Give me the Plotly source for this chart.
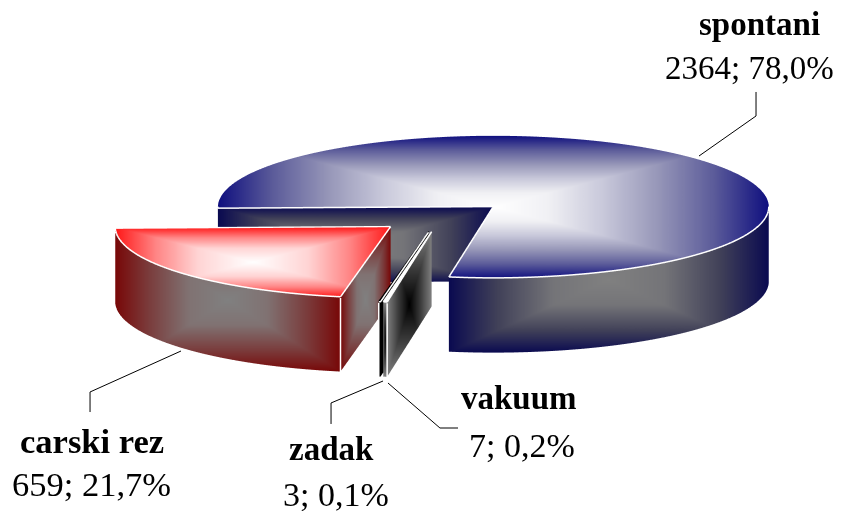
import numpy as np
import plotly.graph_objects as go

# ---- data ----
labels = ["spontani", "vakuum", "zadak", "carski rez"]
counts = [2364, 7, 3, 659]
percents = ["78,0", "0,2", "0,1", "21,7"]

# ---- style ----
W, H = 851, 511
START_DEG = 268.7
ELEV = np.radians(15)
THICK = 0.279
PX = 276.0               # pixels per pie radius
PIE_CX, PIE_CY = 493.5, 207.0
EYE_DIST = 12.0
ASPECT = 276.0 / 64.0
offsets = {"spontani": (0, 0), "vakuum": (-0.224, -0.352),
           "zadak": (-0.234, -0.352), "carski rez": (-0.373, -0.282)}
top_scale = {
    "spontani": [[0, "#ffffff"], [0.2, "#f0f0f4"], [0.4, "#c8c8da"], [0.6, "#9696b8"], [0.8, "#5c5c9a"], [1, "#10107f"]],
    "vakuum": [[0, "#ffffff"], [1, "#ffffff"]],
    "zadak": [[0, "#ffffff"], [1, "#ffffff"]],
    "carski rez": [[0, "#ffffff"], [0.4, "#ffd4d4"], [0.7, "#ff8686"], [1, "#ff1818"]],
}
side_scale = {
    "spontani": [[0, "#808080"], [0.35, "#747478"], [0.7, "#404058"], [1, "#0a0a50"]],
    "vakuum": [[0, "#000000"], [0.5, "#3c3c3c"], [1, "#808080"]],
    "zadak": [[0, "#000000"], [1, "#000000"]],
    "carski rez": [[0, "#808080"], [0.35, "#807272"], [0.7, "#7a3c3c"], [1, "#780808"]],
}
name_pos = {"spontani": (759, 24, 33), "vakuum": (519, 398, 33),
            "zadak": (331, 449, 33), "carski rez": (92, 441, 34.5)}
value_pos = {"spontani": (749, 68, 33), "vakuum": (522, 445, 34),
             "zadak": (336, 494, 34), "carski rez": (91, 484, 34.5)}
edge_colors = {("zadak", 1): "#000000"}
vertical_edges = {"vakuum": 0, "zadak": 1, "carski rez": 0}
leaders = [[(699, 156), (756, 116), (756, 92)],
           [(388, 383), (440, 428), (458, 428)],
           [(383, 381), (331, 403), (331, 424)],
           [(181, 351), (90, 392), (90, 412)]]

SE, CE = np.sin(ELEV), np.cos(ELEV)
fig = go.Figure()


def grad(x, y, z):
    sx = x
    sy = y * SE + z * CE
    u = (sx - (sx.max() + sx.min()) / 2) / max((sx.max() - sx.min()) / 2, 1e-6)
    v = (sy - (sy.max() + sy.min()) / 2) / max((sy.max() - sy.min()) / 2, 1e-6)
    return np.maximum(np.abs(u), np.abs(v))


def add_surface(x, y, z, scale):
    fig.add_trace(go.Surface(
        x=x, y=y, z=z, surfacecolor=grad(x, y, z), cmin=0, cmax=1,
        colorscale=scale, showscale=False, hoverinfo="skip",
        lighting=dict(ambient=1, diffuse=0, specular=0, roughness=1, fresnel=0),
    ))


def add_line(x, y, z, color, width=3):
    fig.add_trace(go.Scatter3d(x=x, y=y, z=z, mode="lines", hoverinfo="skip",
                               line=dict(color=color, width=width)))


def polar(theta, r=1.0):
    return r * np.sin(theta), r * np.cos(theta)


total = sum(counts)
a0 = np.radians(START_DEG)
for name, c in zip(labels, counts):
    a1 = a0 + 2 * np.pi * c / total
    ox, oy = offsets[name]
    # top face
    th = np.linspace(a0, a1, max(int(np.degrees(a1 - a0)), 6) + 1)
    rr = np.linspace(0, 1, 120)
    R, T = np.meshgrid(rr, th)
    add_surface(ox + R * np.sin(T), oy + R * np.cos(T), np.zeros_like(R), top_scale[name])
    # outer wall: only the front half of the rim
    lo, hi = np.radians(90), np.radians(270)
    ws = []
    for k in (-1, 0, 1):
        s, e = a0 + 2 * np.pi * k, a1 + 2 * np.pi * k
        if e > lo and s < hi:
            ws.append((max(s, lo), min(e, hi)))
    for s, e in ws:
        th2 = np.linspace(s, e, max(int(np.degrees(e - s)) * 2, 6) + 1)
        zz = np.linspace(-THICK, 0, 60)
        T2, Z2 = np.meshgrid(th2, zz)
        add_surface(ox + np.sin(T2), oy + np.cos(T2), Z2, side_scale[name])
        rx, ry = polar(th2)
        add_line(ox + rx, oy + ry, np.zeros_like(th2) + 0.002, "#ffffff")
    # radial walls
    zz = np.linspace(-THICK, 0, 60)
    rr2 = np.linspace(0, 1, 120)
    for k, ang in enumerate((a0, a1)):
        R3, Z3 = np.meshgrid(rr2, zz)
        add_surface(ox + R3 * np.sin(ang), oy + R3 * np.cos(ang), Z3, side_scale[name])
        ex, ey = polar(ang)
        add_line([ox, ox + ex], [oy, oy + ey], [0.002, 0.002], edge_colors.get((name, k), "#ffffff"))
        if vertical_edges.get(name) == k:
            add_line([ox + ex] * 2, [oy + ey - 0.01] * 2, [0, -THICK], "#ffffff")
    a0 = a1

for name, c, p in zip(labels, counts, percents):
    for text, (px, py, size) in ((f"<b>{name}</b>", name_pos[name]), (f"{c}; {p}%", value_pos[name])):
        fig.add_annotation(x=px / W, y=1 - py / H, xref="paper", yref="paper", showarrow=False,
                           xanchor="center", yanchor="middle", align="center", text=text,
                           font=dict(family="Liberation Serif", size=size, color="#000000"))

for pts in leaders:
    path = "M " + " L ".join(f"{x / W:.4f},{1 - y / H:.4f}" for x, y in pts)
    fig.add_shape(type="path", path=path, xref="paper", yref="paper",
                  line=dict(color="#000000", width=1))

shift_x = (W / 2 - PIE_CX) / PX
shift_z = (H / 2 - PIE_CY) / PX / CE
axis = dict(visible=False, showbackground=False, showgrid=False, zeroline=False, showspikes=False)
fig.update_layout(
    width=W, height=H, margin=dict(l=0, r=0, t=0, b=0), showlegend=False,
    paper_bgcolor="#ffffff",
    scene=dict(
        domain=dict(x=[0, 1], y=[0, 1]),
        xaxis=dict(range=[shift_x - 2, shift_x + 2], **axis),
        yaxis=dict(range=[-2, 2], **axis),
        zaxis=dict(range=[-shift_z - 2, -shift_z + 2], **axis),
        aspectmode="manual", aspectratio=dict(x=ASPECT, y=ASPECT, z=ASPECT),
        bgcolor="#ffffff",
        camera=dict(projection=dict(type="orthographic"), up=dict(x=0, y=0, z=1),
                    center=dict(x=0, y=0, z=0),
                    eye=dict(x=0, y=-EYE_DIST * CE, z=EYE_DIST * SE)),
    ),
)
fig.write_html("out.html", config=dict(displayModeBar=False),
               post_script="document.body.style.margin='0';document.body.style.overflow='hidden';")
